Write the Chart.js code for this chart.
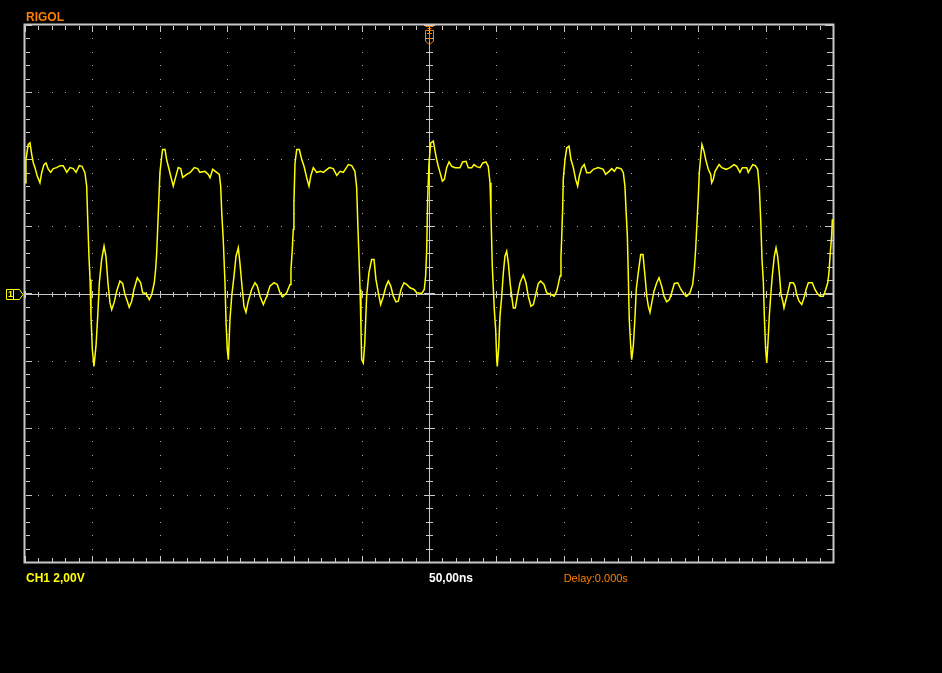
<!DOCTYPE html>
<html>
<head>
<meta charset="utf-8">
<script src="https://cdn.jsdelivr.net/npm/chart.js@4.4.1/dist/chart.umd.min.js"></script>
<style>
html,body{margin:0;padding:0;background:#000;}
#wrap{width:942px;height:673px;position:relative;}
</style>
</head>
<body>
<div id="wrap"><canvas id="c" width="942" height="673"></canvas></div>
<script>
const timeNs = [
-300.0,-299.3,-297.6,-296.3,-295.0,-293.8,-292.6,-290.9,-288.9,-287.6,-285.9,-284.4,-282.7,-280.9,-279.0,-276.5,-274.0,-271.6,-269.0,-266.6,-264.1,-262.1,-259.7,-257.7,-255.5,-254.2,-253.5,-252.5,-251.7,-251.0,-250.0,-248.8,-247.3,-246.0,-244.8,-243.1,-241.3,-239.9,-238.4,-236.9,-235.6,-233.9,-231.9,-229.5,-227.5,-225.8,-224.0,-222.6,-220.8,-219.1,-216.6,-214.1,-212.6,-210.2,-207.7,-205.9,-204.0,-203.0,-202.2,-201.5,-200.5,-199.8,-198.5,-197.8,
-196.0,-194.8,-193.6,-191.8,-189.9,-188.6,-186.2,-184.4,-182.9,-179.9,-177.5,-174.3,-171.8,-170.1,-166.3,-163.9,-162.6,-160.6,-157.7,-155.7,-154.7,-153.9,-152.8,-151.5,-150.7,-149.8,-149.0,-147.8,-146.5,-144.8,-143.3,-141.6,-140.4,-139.1,-137.4,-135.9,-134.2,-131.7,-129.2,-127.5,-125.5,-123.0,-120.5,-118.1,-115.1,-112.7,-110.6,-108.6,-105.7,-103.2,-102.5,-101.5,-100.8,-100.3,-99.5,-98.2,
-96.3,-94.5,-92.8,-90.8,-89.1,-87.8,-85.9,-83.4,-80.4,-78.5,-74.0,-71.1,-68.5,-66.1,-63.6,-59.9,-57.4,-55.0,-53.7,-52.9,-52.0,-51.2,-50.5,-50.0,-48.8,-47.7,-46.3,-44.6,-42.6,-40.8,-39.4,-37.6,-35.9,-33.9,-31.9,-30.2,-28.4,-26.5,-24.5,-22.8,-20.8,-18.6,-16.6,-14.1,-11.1,-9.1,-5.4,-3.5,-2.5,-1.7,-1.0,0.0,1.3,3.2,
4.5,5.7,6.9,8.2,9.9,11.4,13.1,14.9,16.9,19.3,23.0,25.0,27.5,29.2,31.7,33.4,35.4,37.9,39.9,42.3,44.0,45.3,46.0,47.0,48.5,49.5,50.3,50.7,51.8,52.7,54.0,55.2,56.4,57.7,58.9,60.2,61.4,62.6,64.1,65.6,67.6,70.0,72.0,73.7,75.7,77.5,79.5,81.2,82.9,85.4,87.4,90.6,93.0,94.8,96.0,97.3,98.0,98.5,99.3,99.7,101.0,102.3,
104.0,105.4,107.2,108.9,110.4,111.6,113.4,115.3,117.1,119.6,122.0,125.7,129.4,131.2,133.7,135.7,137.6,139.4,142.6,144.3,145.5,146.3,147.3,148.0,148.7,149.8,150.5,151.7,153.0,153.9,155.4,157.2,158.9,160.4,161.7,162.9,164.1,165.4,167.1,169.1,170.8,172.8,174.5,176.5,178.5,180.2,182.2,184.7,187.1,189.6,191.4,193.8,195.8,197.0,198.0,199.0,200.0,200.7,201.8,202.7,
204.2,205.5,207.4,209.2,209.9,211.1,212.4,215.4,217.4,220.6,223.5,226.5,228.5,230.9,232.7,235.9,237.1,240.4,242.3,244.1,245.3,246.3,247.3,248.3,249.0,250.0,250.8,251.7,252.7,253.7,254.9,256.4,257.7,258.9,260.1,261.4,262.7,263.6,265.1,266.4,268.1,270.5,271.8,273.0,274.8,276.8,278.5,280.0,281.7,284.6,286.6,288.4,290.4,292.8,294.6,296.1,297.0,297.8,299.0,299.5
];
const voltsV = [
3.30,3.99,4.44,4.49,4.14,3.89,3.75,3.50,3.30,3.60,3.84,3.89,3.70,3.61,3.72,3.75,3.81,3.81,3.61,3.75,3.72,3.61,3.81,3.79,3.60,3.20,2.30,1.11,0.42,-0.68,-1.67,-2.17,-1.57,-0.68,0.32,1.01,1.41,1.11,0.32,-0.28,-0.48,-0.28,0.07,0.37,0.30,-0.03,-0.23,-0.41,-0.23,0.12,0.47,0.32,0.02,0.00,-0.18,-0.03,0.32,0.72,1.21,1.91,2.90,3.60,4.09,4.29,
4.29,3.99,3.79,3.50,3.20,3.40,3.75,3.72,3.46,3.55,3.60,3.75,3.72,3.61,3.64,3.55,3.45,3.70,3.61,3.55,3.20,2.41,1.61,0.33,-0.86,-1.67,-1.97,-0.77,-0.08,0.52,1.11,1.36,0.91,0.32,-0.38,-0.56,-0.23,0.12,0.32,0.22,-0.08,-0.33,-0.08,0.22,0.32,0.27,0.02,-0.10,0.02,0.27,0.72,1.31,1.91,2.70,3.89,4.29,
4.29,3.99,3.79,3.45,3.20,3.50,3.75,3.61,3.64,3.61,3.75,3.72,3.52,3.64,3.61,3.84,3.81,3.64,3.15,2.11,1.11,0.12,-1.07,-1.97,-2.07,-1.47,-0.08,0.62,1.01,1.01,0.42,0.02,-0.33,-0.08,0.22,0.37,0.22,-0.08,-0.25,-0.23,0.12,0.32,0.27,0.17,0.12,0.02,0.00,0.12,0.52,1.31,2.80,3.89,4.49,4.54,
4.24,3.99,3.79,3.60,3.35,3.40,3.75,3.92,3.79,3.75,3.75,3.92,3.94,3.75,3.75,3.84,3.78,3.75,3.89,3.92,3.79,3.30,2.40,0.81,-0.48,-1.07,-1.97,-2.17,-1.57,-0.68,-0.08,0.62,1.11,1.26,0.91,0.32,-0.08,-0.43,-0.43,-0.08,0.32,0.55,0.32,-0.08,-0.38,-0.33,0.02,0.30,0.37,0.27,0.02,-0.03,-0.08,0.07,0.27,0.52,1.11,1.61,2.60,3.40,3.99,4.34,
4.39,3.99,3.75,3.40,3.20,3.50,3.75,3.84,3.60,3.60,3.70,3.75,3.70,3.55,3.64,3.72,3.64,3.75,3.72,3.60,3.20,2.50,1.71,0.52,-0.77,-1.57,-1.97,-1.57,-0.68,0.12,0.62,1.16,1.16,0.52,-0.08,-0.38,-0.56,-0.28,0.07,0.32,0.47,0.22,-0.08,-0.25,-0.18,0.02,0.30,0.32,0.12,-0.03,-0.08,0.02,0.27,0.72,1.31,2.11,2.90,3.60,4.09,4.44,
4.24,3.99,3.70,3.55,3.30,3.40,3.64,3.84,3.75,3.70,3.75,3.84,3.79,3.61,3.75,3.75,3.61,3.84,3.81,3.70,3.15,2.21,1.01,0.32,-0.68,-1.67,-2.07,-1.47,-0.68,-0.08,0.52,1.11,1.36,1.11,0.62,-0.03,-0.23,-0.43,-0.18,0.02,0.32,0.32,0.22,-0.03,-0.23,-0.33,-0.13,0.12,0.32,0.32,0.12,0.00,-0.08,-0.08,0.12,0.32,0.62,1.11,1.71,2.21
];
// Screen settings
const timeRangeNs = [-300, 300];
const timePerDivNs = 50;
const voltRange = [-8, 8];
const voltPerDiv = 2;
const labelTop = "RIGOL";
const labelCh = "CH1 2,00V";
const labelTime = "50,00ns";
const labelDelay = "Delay:0.000s";

const points = timeNs.map((t, i) => ({x: t, y: voltsV[i]}));

const GRID = '#c8c8c8';
const DOT = '#a8a8a8';
const ORANGE = '#ff8000';
const YELLOW = '#ffff00';

const scopePlugin = {
  id: 'scope',
  beforeDraw(chart) {
    const ctx = chart.ctx;
    ctx.save();
    ctx.fillStyle = '#000';
    ctx.fillRect(0, 0, chart.width, chart.height);
    ctx.restore();
  },
  beforeDatasetsDraw(chart) {
    const ctx = chart.ctx, xs = chart.scales.x, ys = chart.scales.y;
    const L = xs.getPixelForValue(timeRangeNs[0]), R = xs.getPixelForValue(timeRangeNs[1]);
    const T = ys.getPixelForValue(voltRange[1]), B = ys.getPixelForValue(voltRange[0]);
    const cx = Math.round(xs.getPixelForValue(0)), cy = Math.round(ys.getPixelForValue(0));
    const xMinor = timePerDivNs / 5, yMinor = voltPerDiv / 5;
    const xMinorPx = [], xMajorPx = [], yMinorPx = [], yMajorPx = [];
    for (let t = timeRangeNs[0]; t <= timeRangeNs[1] + 1e-6; t += xMinor) {
      const p = Math.round(xs.getPixelForValue(t));
      const k = Math.round((t - timeRangeNs[0]) / xMinor);
      (k % 5 === 0 ? xMajorPx : xMinorPx).push(p);
    }
    for (let v = voltRange[0]; v <= voltRange[1] + 1e-6; v += yMinor) {
      const p = Math.round(ys.getPixelForValue(v));
      const k = Math.round((v - voltRange[0]) / yMinor);
      (k % 5 === 0 ? yMajorPx : yMinorPx).push(p);
    }
    const allX = xMinorPx.concat(xMajorPx), allY = yMinorPx.concat(yMajorPx);
    ctx.save();
    // dotted grid
    ctx.fillStyle = DOT;
    xMajorPx.forEach(x => {
      if (x <= L + 2 || x >= R - 2 || x === cx) return;
      allY.forEach(y => { if (y > T + 2 && y < B - 2) ctx.fillRect(x, y, 1, 1); });
    });
    yMajorPx.forEach(y => {
      if (y <= T + 2 || y >= B - 2 || y === cy) return;
      allX.forEach(x => { if (x > L + 2 && x < R - 2) ctx.fillRect(x, y, 1, 1); });
    });
    // centre cross
    ctx.fillStyle = GRID;
    ctx.fillRect(L, cy, R - L, 1);
    ctx.fillRect(cx, T, 1, B - T);
    xMinorPx.forEach(x => ctx.fillRect(x, cy - 2, 1, 5));
    xMajorPx.forEach(x => ctx.fillRect(x, cy - 3, 1, 7));
    yMinorPx.forEach(y => ctx.fillRect(cx - 3, y, 7, 1));
    yMajorPx.forEach(y => ctx.fillRect(cx - 5, y, 11, 1));
    // border ticks
    xMinorPx.forEach(x => { ctx.fillRect(x, T + 1, 1, 4); ctx.fillRect(x, B - 4, 1, 4); });
    xMajorPx.forEach(x => { ctx.fillRect(x, T + 1, 1, 6); ctx.fillRect(x, B - 6, 1, 6); });
    yMinorPx.forEach(y => { ctx.fillRect(L + 1, y, 4, 1); ctx.fillRect(R - 6, y, 6, 1); });
    yMajorPx.forEach(y => { ctx.fillRect(L + 1, y, 6, 1); ctx.fillRect(R - 8, y, 8, 1); });
    // frame
    ctx.strokeStyle = GRID;
    ctx.lineWidth = 2;
    ctx.strokeRect(L - 0.5, T - 0.5, R - L + 1, B - T + 1);
    ctx.restore();
  },
  afterDraw(chart) {
    const ctx = chart.ctx, xs = chart.scales.x, ys = chart.scales.y;
    const L = xs.getPixelForValue(timeRangeNs[0]);
    const T = ys.getPixelForValue(voltRange[1]);
    const cx = Math.round(xs.getPixelForValue(0)) + 0.5, cy = Math.round(ys.getPixelForValue(0)) + 0.5;
    ctx.save();
    // trigger position marker (top centre)
    ctx.strokeStyle = ORANGE; ctx.lineWidth = 1;
    ctx.beginPath();
    ctx.moveTo(cx - 4, T + 1.5); ctx.lineTo(cx + 4, T + 1.5);
    ctx.moveTo(cx - 2, T + 3.5); ctx.lineTo(cx + 2, T + 3.5);
    ctx.moveTo(cx - 4, T + 5.5); ctx.lineTo(cx + 4, T + 5.5);
    ctx.lineTo(cx + 4, T + 16); ctx.lineTo(cx + 1, T + 19); ctx.lineTo(cx - 1, T + 19);
    ctx.lineTo(cx - 4, T + 16); ctx.lineTo(cx - 4, T + 5.5);
    ctx.moveTo(cx - 2.5, T + 8.5); ctx.lineTo(cx + 2.5, T + 8.5);
    ctx.moveTo(cx, T + 8.5); ctx.lineTo(cx, T + 16);
    ctx.moveTo(cx - 2.5, T + 13.5); ctx.lineTo(cx + 2.5, T + 13.5);
    ctx.stroke();
    // channel 1 ground marker (left)
    ctx.strokeStyle = YELLOW;
    ctx.beginPath();
    ctx.moveTo(6.5, cy - 5); ctx.lineTo(19.5, cy - 5); ctx.lineTo(23, cy);
    ctx.lineTo(19.5, cy + 5); ctx.lineTo(6.5, cy + 5); ctx.closePath();
    ctx.moveTo(13.5, cy - 5); ctx.lineTo(13.5, cy + 5);
    ctx.stroke();
    ctx.fillStyle = YELLOW;
    ctx.font = 'bold 9px "Liberation Sans", Arial, sans-serif';
    ctx.textBaseline = 'middle'; ctx.textAlign = 'center';
    ctx.fillText('1', 10.5, cy + 0.5);
    // labels
    ctx.textAlign = 'left'; ctx.textBaseline = 'alphabetic';
    ctx.fillStyle = ORANGE;
    ctx.font = 'bold 12px "Liberation Sans", Arial, sans-serif';
    ctx.fillText(labelTop, L + 1, 21);
    ctx.fillStyle = YELLOW;
    ctx.fillText(labelCh, L + 1, 582);
    ctx.fillStyle = '#ffffff';
    ctx.fillText(labelTime, xs.getPixelForValue(0), 582);
    ctx.fillStyle = ORANGE;
    ctx.font = '11px "Liberation Sans", Arial, sans-serif';
    ctx.fillText(labelDelay, xs.getPixelForValue(2 * timePerDivNs), 582);
    ctx.restore();
  }
};

new Chart(document.getElementById('c'), {
  type: 'line',
  data: {
    datasets: [{
      label: 'CH1',
      data: points,
      borderColor: YELLOW,
      borderWidth: 1.5,
      pointRadius: 0,
      tension: 0,
      fill: false
    }]
  },
  options: {
    responsive: false,
    animation: false,
    events: [],
    layout: {padding: {left: 25, top: 25, right: 109, bottom: 111}},
    plugins: {legend: {display: false}, tooltip: {enabled: false}, title: {display: false}},
    scales: {
      x: {type: 'linear', min: timeRangeNs[0], max: timeRangeNs[1], display: false,
          ticks: {stepSize: timePerDivNs}},
      y: {type: 'linear', min: voltRange[0], max: voltRange[1], display: false,
          ticks: {stepSize: voltPerDiv}}
    }
  },
  plugins: [scopePlugin]
});
</script>
</body>
</html>
